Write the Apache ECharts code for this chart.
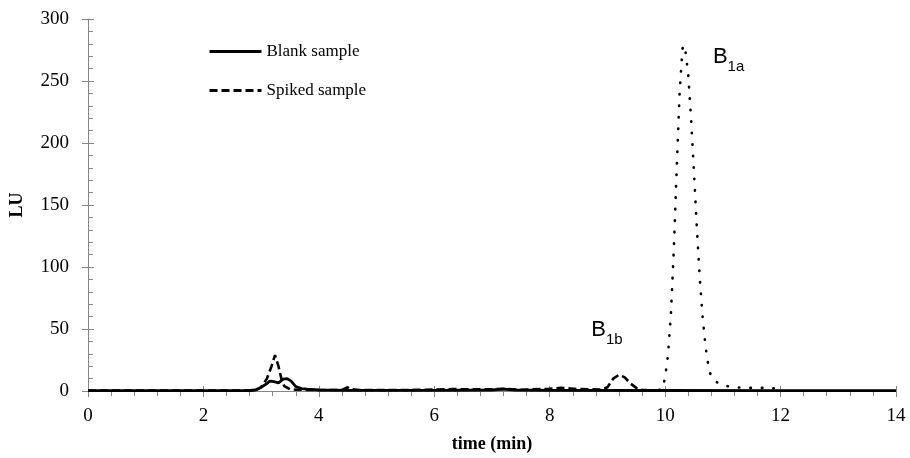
<!DOCTYPE html>
<html>
<head>
<meta charset="utf-8">
<script src="https://cdn.jsdelivr.net/npm/echarts@6/dist/echarts.min.js"></script>
<style>
  body { margin: 0; background: #fff; }
  #chart { width: 910px; height: 458px; }
</style>
</head>
<body>
<div id="chart"></div>
<script>
// blank sample (solid)
var blankTime = [0, 1, 2, 2.8, 2.9, 3.0, 3.1, 3.15, 3.22, 3.3, 3.38, 3.45, 3.52, 3.6, 3.7, 3.8, 4.0, 4.5, 5, 6, 7, 7.2, 7.4, 8, 10, 12, 14];
var blankLU = [0.3, 0.3, 0.3, 0.4, 0.8, 3, 6, 8, 7.5, 6.6, 9.5, 10, 8, 3.5, 2, 1.5, 0.8, 0.5, 0.5, 0.5, 0.8, 1.5, 0.8, 0.5, 0.4, 0.3, 0.3];

// spiked sample (dashed)
var spikedTime = [0, 1, 2, 2.9, 3.0, 3.1, 3.18, 3.24, 3.3, 3.35, 3.4, 3.5, 3.6, 4.0, 4.4, 4.5, 4.55, 4.7, 5.5, 6.0, 6.3, 7.0, 7.2, 7.5, 8.0, 8.2, 8.5, 8.9, 9.0, 9.1, 9.2, 9.3, 9.4, 9.5, 9.6, 9.7];
var spikedLU = [0.3, 0.3, 0.3, 0.5, 3, 10, 20, 29, 20, 10, 4, 1.5, 1, 0.8, 0.8, 3, 1.5, 0.8, 0.8, 1.2, 1.5, 1.3, 1.8, 1, 1.8, 2.5, 1.5, 1.2, 3, 10, 13, 11, 6, 2.5, 1, 0.5];

// B1a peak (dotted)
var peakTime = [9.7, 9.95, 10.0, 10.05, 10.1, 10.15, 10.2, 10.25, 10.3, 10.32, 10.35, 10.4, 10.45, 10.5, 10.55, 10.6, 10.65, 10.7, 10.75, 10.8, 10.9, 11.0, 11.2, 11.4, 11.6, 11.8, 12.0];
var peakLU = [0.5, 1, 11, 29, 62, 114, 179, 240, 276, 279, 275, 255, 219, 176, 131, 91, 59, 36, 20, 11, 7, 4.5, 3, 2.5, 2.5, 2.5, 1.5];

var xTicks = { min: 0, max: 14, interval: 2 };
var yTicks = { min: 0, max: 300, interval: 50 };

function zip(t, v) {
  return t.map(function (x, i) { return [x, v[i]]; });
}

var serif = 'Liberation Serif';
var sans = 'Liberation Sans';
var axisGray = '#868686';

var labelRich = {
  b: { fontSize: 22, fontFamily: sans, color: '#000', lineHeight: 24, verticalAlign: 'top' },
  s: { fontSize: 15, fontFamily: sans, color: '#000', lineHeight: 15, verticalAlign: 'top', padding: [13, 0, 0, 0] }
};

var chart = echarts.init(document.getElementById('chart'));
chart.setOption({
  animation: false,
  backgroundColor: '#fff',
  grid: { left: 86, right: 14, top: 19, bottom: 65 },
  legend: {
    data: ['Blank sample', 'Spiked sample'],
    orient: 'vertical',
    left: 203,
    top: 38,
    itemWidth: 52,
    itemHeight: 14,
    itemGap: 22,
    itemStyle: { color: 'transparent', borderColor: 'transparent', borderWidth: 0 },
    lineStyle: { width: 3 },
    textStyle: { fontFamily: serif, fontSize: 17, color: '#000' }
  },
  xAxis: [{
    type: 'value',
    min: xTicks.min, max: xTicks.max, interval: xTicks.interval,
    name: 'time (min)',
    nameLocation: 'middle',
    nameGap: 44,
    nameTextStyle: { fontFamily: serif, fontSize: 18, fontWeight: 'bold', color: '#000' },
    axisLine: { onZero: false, lineStyle: { color: axisGray, width: 1 } },
    axisTick: { inside: false, length: 6, lineStyle: { color: axisGray } },
    minorTick: { show: true, splitNumber: 5, length: 5, lineStyle: { color: axisGray } },
    axisLabel: { fontFamily: serif, fontSize: 19, color: '#000', margin: 16 },
    splitLine: { show: false }
  }, {
    type: 'value', position: 'bottom',
    min: xTicks.min, max: xTicks.max, interval: xTicks.interval,
    axisLine: { show: false },
    axisTick: { inside: true, length: 5, lineStyle: { color: axisGray } },
    axisLabel: { show: false },
    splitLine: { show: false }
  }],
  yAxis: [{
    type: 'value',
    min: yTicks.min, max: yTicks.max, interval: yTicks.interval,
    name: 'LU',
    nameLocation: 'middle',
    nameGap: 62,
    nameTextStyle: { fontFamily: serif, fontSize: 18, fontWeight: 'bold', color: '#000' },
    axisLine: { show: true, lineStyle: { color: axisGray, width: 1 } },
    axisTick: { show: true, inside: true, length: 6, lineStyle: { color: axisGray } },
    minorTick: { show: true, splitNumber: 5, length: 5, lineStyle: { color: axisGray } },
    axisLabel: { fontFamily: serif, fontSize: 19, color: '#000', margin: 19 },
    splitLine: { show: false }
  }, {
    type: 'value', position: 'left',
    min: yTicks.min, max: yTicks.max, interval: yTicks.interval,
    axisLine: { show: false },
    axisTick: { show: true, inside: false, length: 6, lineStyle: { color: axisGray } },
    axisLabel: { show: false },
    splitLine: { show: false }
  }],
  series: [{
    name: 'Spiked sample',
    type: 'line',
    symbol: 'none',
    color: '#000',
    lineStyle: { color: '#000', width: 2.6, type: [8, 4] },
    data: zip(spikedTime, spikedLU),
    markPoint: {
      symbol: 'circle', symbolSize: 0,
      label: { show: true, position: 'inside', offset: [-12, -44], formatter: '{b|B}{s|1b}', rich: labelRich },
      data: [{ coord: [9.2, 13] }]
    }
  }, {
    name: 'Spiked sample B1a',
    type: 'line',
    symbol: 'none',
    color: '#000',
    lineStyle: { color: '#000', width: 2.6, type: [0.5, 11], cap: 'round' },
    data: zip(peakTime, peakLU),
    markPoint: {
      symbol: 'circle', symbolSize: 0,
      label: { show: true, position: 'inside', offset: [45, 13], formatter: '{b|B}{s|1a}', rich: labelRich },
      data: [{ coord: [10.32, 279] }]
    }
  }, {
    name: 'Blank sample',
    type: 'line',
    symbol: 'none',
    color: '#000',
    lineStyle: { color: '#000', width: 2.8 },
    data: zip(blankTime, blankLU)
  }]
});
</script>
</body>
</html>
